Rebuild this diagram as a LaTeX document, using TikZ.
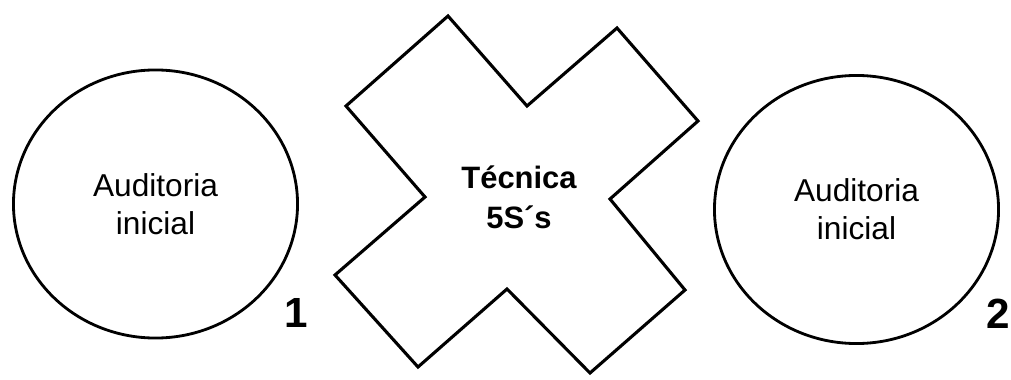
\documentclass[tikz,border=0pt]{standalone}
\usepackage{fontspec}
\setmainfont{Liberation Sans}
\usetikzlibrary{shapes.geometric}
\begin{document}
\begin{tikzpicture}[x=0.025cm, y=-0.025cm, line width=2pt,
	audit/.style={draw, ellipse, minimum width=7.1cm, minimum height=6.7cm, align=center, font=\fontsize{22.5}{27}\selectfont},
	number/.style={font=\fontsize{30}{36}\selectfont\bfseries, inner sep=0pt}]
				\useasboundingbox (0,0) rectangle (1011,380);
				% Auditorias (left and right)
				\node (audit1) [audit] at (155.5,204) {Auditoria\\inicial};
				\node (audit2) [audit] at (856.5,209.5) {Auditoria\\inicial};
				\node (num1) [number] at (296,313) {1};
				\node (num2) [number] at (998.5,314) {2};
				
				% Cross (centre)
				\draw[line join=miter, line width=2.2pt] (448,16) -- (527,106) -- (617,28) -- (698,121) -- (610,199) -- (685,290)
					-- (590,373) -- (507,289) -- (418,367) -- (335,275) -- (425,197) -- (346,106) -- cycle;
				\node (tecnica) [align=center, font=\fontsize{22}{28.5}\selectfont\bfseries] at (519,197) {Técnica\\5S´s};
			\end{tikzpicture}
\end{document}
